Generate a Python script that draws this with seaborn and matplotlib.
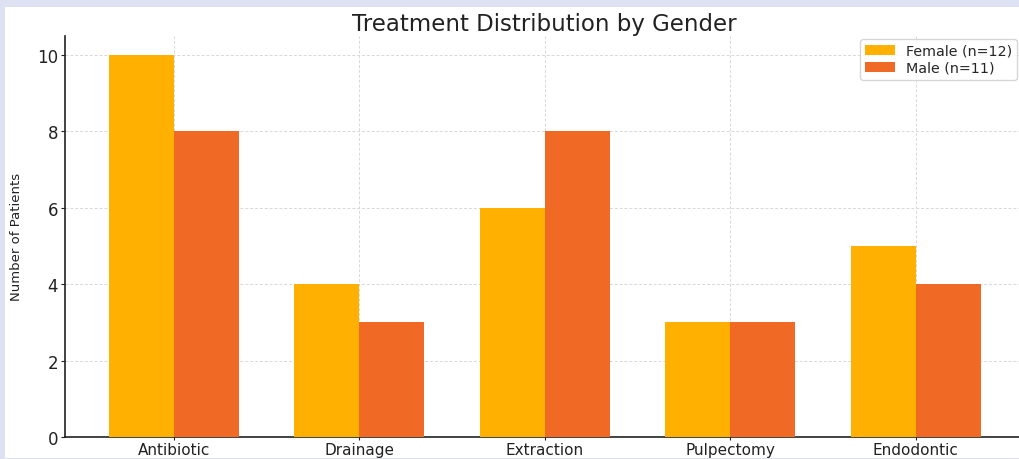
import matplotlib
matplotlib.use("Agg")
import matplotlib.pyplot as plt
from matplotlib.patches import Rectangle
import seaborn as sns
import pandas as pd

treatments = ["Antibiotic", "Drainage", "Extraction", "Pulpectomy", "Endodontic"]
female_counts = [10, 4, 6, 3, 5]
male_counts = [8, 3, 8, 3, 4]
group_labels = ["Female (n=12)", "Male (n=11)"]
y_ticks = [0, 2, 4, 6, 8, 10]

df = pd.DataFrame({
    "Treatment": treatments * 2,
    "Count": female_counts + male_counts,
    "Gender": [group_labels[0]] * len(treatments) + [group_labels[1]] * len(treatments),
})

sns.set_theme(style="white")
plt.rcParams["font.family"] = ["DejaVu Sans"]

palette = {group_labels[0]: "#FFB000", group_labels[1]: "#F06A26"}

W, H = 1020, 460
fig = plt.figure(figsize=(W / 100, H / 100), dpi=100, facecolor="white")
ax_left, ax_bottom, ax_top, ax_right = 65, 438, 36.7, 1024.5
ax = fig.add_axes([ax_left / W, (H - ax_bottom) / H,
                   (ax_right - ax_left) / W, (ax_bottom - ax_top) / H])

sns.barplot(data=df, x="Treatment", y="Count", hue="Gender", palette=palette,
            width=0.7, gap=0, saturation=1, linewidth=0, ax=ax, zorder=3)

ax.set_ylim(0, 10.5)
ax.set_xlim(-0.585, 4.585)
ax.set_yticks(y_ticks)
ax.set_yticklabels([str(v) for v in y_ticks])
ax.grid(True, linestyle=(0, (3, 2)), color="#d8d8d8", linewidth=0.7, zorder=0)
ax.set_axisbelow(True)

for side in ["top", "right"]:
    ax.spines[side].set_visible(False)
for side in ["left", "bottom"]:
    ax.spines[side].set_color("#222222")
    ax.spines[side].set_linewidth(1.2)

ax.tick_params(axis="y", direction="out", length=3, width=0.8,
               colors="#222222", labelsize=12, pad=2, left=True)
ax.tick_params(axis="x", direction="out", length=2.5, width=0.8,
               colors="#222222", labelsize=11, pad=1, bottom=True)
ax.set_xlabel("")
ax.set_ylabel("Number of Patients", fontsize=9.5, color="#222222", labelpad=10)
ax.set_title("Treatment Distribution by Gender", fontsize=16.5, color="#222222", pad=4)

leg = ax.legend(loc="upper right", bbox_to_anchor=(0.992, 0.992), borderaxespad=0,
                fontsize=10.3, frameon=True, handlelength=2.1, handleheight=0.7,
                borderpad=0.35, labelspacing=0.2, handletextpad=0.75, fancybox=True)
leg.get_frame().set_edgecolor("#cccccc")
leg.set_title(None)

# lavender frame around the chart
frame_col = "#DDE1F1"
for x0, y0, w, h in [(0, H - 8, W, 8), (0, 0, W, 1), (0, 0, 5, H)]:
    fig.add_artist(Rectangle((x0 / W, y0 / H), w / W, h / H, transform=fig.transFigure,
                             facecolor=frame_col, edgecolor="none", zorder=20))

fig.savefig("out.png", dpi=100, facecolor=fig.get_facecolor())
